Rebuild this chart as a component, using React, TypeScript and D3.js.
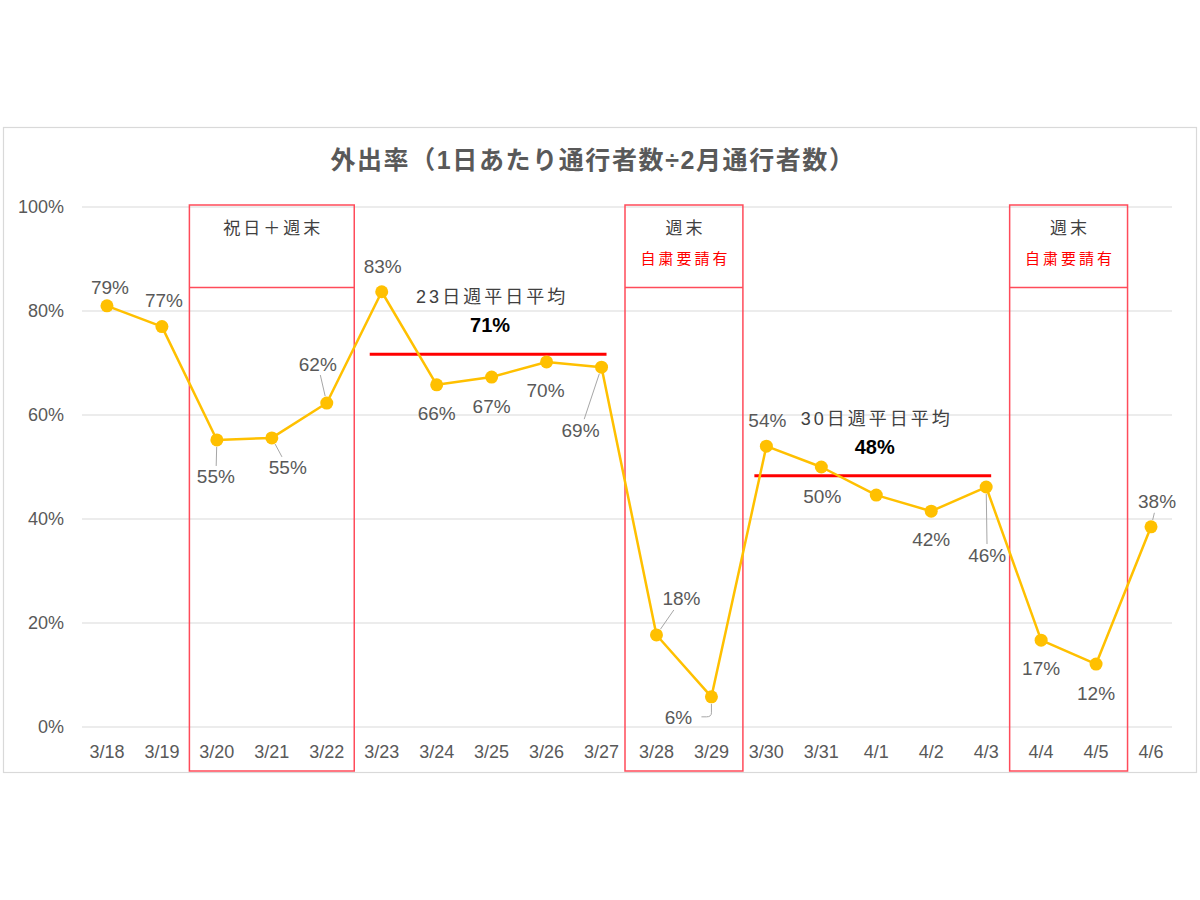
import * as d3 from "d3";

// dates on the x axis
const DATES = [
  "3/18", "3/19", "3/20", "3/21", "3/22", "3/23", "3/24", "3/25", "3/26", "3/27",
  "3/28", "3/29", "3/30", "3/31", "4/1", "4/2", "4/3", "4/4", "4/5", "4/6",
];
// outing rate per day
const RATES = [
  0.81, 0.77, 0.552, 0.556, 0.623, 0.837, 0.658, 0.673, 0.702, 0.692,
  0.177, 0.058, 0.54, 0.5, 0.446, 0.415, 0.4615, 0.167, 0.121, 0.385,
];
// data labels as shown (4/1 has none)
const RATE_LABELS = [
  "79%", "77%", "55%", "55%", "62%", "83%", "66%", "67%", "70%", "69%",
  "18%", "6%", "54%", "50%", "", "42%", "46%", "17%", "12%", "38%",
];
const Y_TICKS = [0, 0.2, 0.4, 0.6, 0.8, 1.0];

// highlighted periods: first date, last date, header, sub-header
const PERIOD_START = ["3/20", "3/28", "4/4"];
const PERIOD_END = ["3/22", "3/29", "4/5"];
const PERIOD_TITLE = ["祝日＋週末", "週末", "週末"];
const PERIOD_NOTE = ["", "自粛要請有", "自粛要請有"];

// weekday averages
const AVG_START = ["3/23", "3/30"];
const AVG_END = ["3/27", "4/3"];
const AVG_VALUE = [0.717, 0.483];
const AVG_TITLE = ["23日週平日平均", "30日週平日平均"];
const AVG_LABEL = ["71%", "48%"];

const TITLE = "外出率（1日あたり通行者数÷2月通行者数）";

// label placement relative to the marker (layout only)
const LABEL_POS: [number, number, string][] = [
  [3, -18, ""], [2, -26, ""], [-1, 37, "line"], [16, 30, "line"], [-9, -39, "line"],
  [1, -25, ""], [0, 29, ""], [0, 29, ""], [-1, 29, ""], [-21, 63, "line"],
  [25, -36, "line"], [-33, 21, "hook"], [1, -26, ""], [1, 29, ""], [0, 0, ""],
  [0, 28, ""], [1, 68, "line"], [0, 28, ""], [0, 29, ""], [6, -25, "line"],
];

const FONT = "'Liberation Sans', Arial, 'Noto Sans CJK JP', sans-serif";
const GOLD = "#FFC000";
const TEXT = "#595959";
const GRID = "#d9d9d9";
const BOX_RED = "#ff4b5a";

const W = 1200;
const H = 900;
const PLOT = { left: 82, right: 1172, top: 207, bottom: 727 };

export default function App() {
  const x = d3
    .scalePoint<string>()
    .domain(DATES)
    .range([79.5, 1178.5])
    .padding(0.5);
  const step = x.step();
  const y = d3.scaleLinear().domain([0, 1]).range([PLOT.bottom, PLOT.top]);

  const points = DATES.map((d, i) => ({ date: d, v: RATES[i], i }));
  const line = d3
    .line<(typeof points)[0]>()
    .x((d) => x(d.date)!)
    .y((d) => y(d.v));

  const fmtTick = d3.format(".0%");

  return (
    <div style={{ position: "absolute", left: 0, top: 0, background: "#fff" }}>
      <svg width={W} height={H} style={{ display: "block", fontFamily: FONT }}>
        <rect width={W} height={H} fill="#fff" />
        {/* chart frame */}
        <rect x={3.5} y={127.5} width={1193} height={645} fill="none" stroke={GRID} strokeWidth={1.2} />

        <text x={593} y={160} textAnchor="middle" dominantBaseline="central" fontSize={25} letterSpacing={1.6} fontWeight="bold" fill={TEXT}>
          {TITLE}
        </text>

        {/* gridlines + y labels */}
        {Y_TICKS.map((t) => (
          <g key={t}>
            <line x1={PLOT.left} x2={PLOT.right} y1={y(t)} y2={y(t)} stroke={GRID} strokeWidth={1} />
            <text x={64} y={y(t)} textAnchor="end" dominantBaseline="central" fontSize={18} fill={TEXT}>
              {fmtTick(t)}
            </text>
          </g>
        ))}

        {/* x labels */}
        {DATES.map((d) => (
          <text key={d} x={x(d)!} y={752} textAnchor="middle" dominantBaseline="central" fontSize={18} fill={TEXT}>
            {d}
          </text>
        ))}

        {/* highlighted periods */}
        {PERIOD_START.map((s, i) => {
          const n = DATES.indexOf(PERIOD_END[i]) - DATES.indexOf(s) + 1;
          const pad = n === 2 ? 4 : 0;
          const x0 = x(s)! - step / 2 - pad;
          const x1 = x(PERIOD_END[i])! + step / 2 + pad;
          const top = y(1) - 2;
          const mid = y(0.845);
          const bot = y(0) + 44;
          const cx = (x0 + x1) / 2 + 1.5;
          return (
            <g key={s}>
              <rect x={x0} y={top} width={x1 - x0} height={bot - top} fill="none" stroke={BOX_RED} strokeWidth={1.5} />
              <line x1={x0} x2={x1} y1={mid} y2={mid} stroke={BOX_RED} strokeWidth={1.5} />
              <text x={cx} y={top + 23} textAnchor="middle" dominantBaseline="central" fontSize={17} letterSpacing={3} fill="#404040">
                {PERIOD_TITLE[i]}
              </text>
              {PERIOD_NOTE[i] && (
                <text x={cx} y={top + 53} textAnchor="middle" dominantBaseline="central" fontSize={15} letterSpacing={3} fill="#ff0000">
                  {PERIOD_NOTE[i]}
                </text>
              )}
            </g>
          );
        })}

        {/* weekday averages */}
        {AVG_START.map((s, i) => {
          const x0 = x(s)! - 12;
          const x1 = x(AVG_END[i])! + 5;
          const cx = (x0 + x1) / 2 + 2;
          return (
            <g key={s}>
              <line x1={x0} x2={x1} y1={y(AVG_VALUE[i])} y2={y(AVG_VALUE[i])} stroke="#ff0000" strokeWidth={3} />
              <text x={cx + 2} y={y(AVG_VALUE[i]) - 57} textAnchor="middle" dominantBaseline="central" fontSize={18} letterSpacing={3} fill="#404040">
                {AVG_TITLE[i]}
              </text>
              <text x={cx} y={y(AVG_VALUE[i]) - 29} textAnchor="middle" dominantBaseline="central" fontSize={20} fontWeight="bold" fill="#000">
                {AVG_LABEL[i]}
              </text>
            </g>
          );
        })}

        {/* series */}
        <path d={line(points)!} fill="none" stroke={GOLD} strokeWidth={2.5} strokeLinejoin="round" />
        {points.map((p) => (
          <circle key={p.date} cx={x(p.date)!} cy={y(p.v)} r={6.5} fill={GOLD} />
        ))}

        {/* data labels and leader lines */}
        {points.map((p) => {
          const lab = RATE_LABELS[p.i];
          if (!lab) return null;
          const [dx, dy, kind] = LABEL_POS[p.i];
          const px = x(p.date)!;
          const py = y(p.v);
          const lx = px + dx;
          const ly = py + dy;
          let leader = null;
          if (kind === "line") {
            const len = Math.hypot(dx, dy);
            const t = Math.min(dx ? 20 / Math.abs(dx) : 9, dy ? 11 / Math.abs(dy) : 9);
            const sx = px + (dx / len) * 7;
            const sy = py + (dy / len) * 7;
            leader = (
              <line x1={sx} y1={sy} x2={lx - dx * t} y2={ly - dy * t} stroke="#a6a6a6" strokeWidth={1} />
            );
          } else if (kind === "hook") {
            leader = (
              <path
                d={`M${px},${py + 7} L${px},${py + 16} Q${px},${py + 20} ${px - 5},${py + 20} L${px - 10},${py + 20}`}
                fill="none"
                stroke="#a6a6a6"
                strokeWidth={1}
              />
            );
          }
          return (
            <g key={p.date}>
              {leader}
              <text x={lx} y={ly} textAnchor="middle" dominantBaseline="central" fontSize={19} fill={TEXT}>
                {lab}
              </text>
            </g>
          );
        })}
      </svg>
    </div>
  );
}
